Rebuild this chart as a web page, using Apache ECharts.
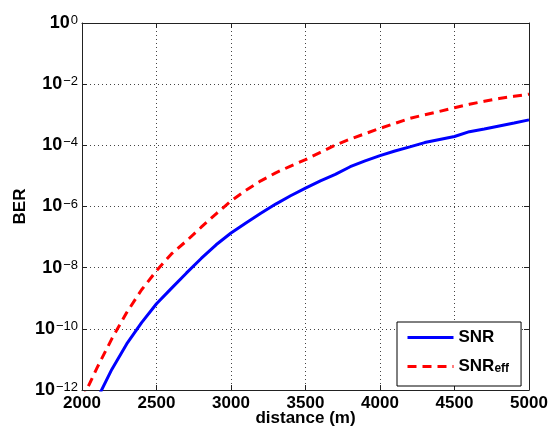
<!DOCTYPE html>
<html><head><meta charset="utf-8">
<script src="https://cdn.jsdelivr.net/npm/echarts@6/dist/echarts.min.js"></script>
<style>html,body{margin:0;padding:0;background:#fff}#c{width:550px;height:427px}</style>
</head><body><div id="c"></div>
<script>
// distance (m)
const distance = [2000,2100,2200,2300,2400,2500,2600,2700,2800,2900,3000,3100,3200,3300,3400,3500,3600,3700,3800,3900,4000,4100,4200,4300,4400,4500,4600,4700,4800,4900,5000];
// BER using SNR (blue, solid)
const berSNR = [null,4.9e-13,4.7e-12,3.2e-11,1.6e-10,6.6e-10,2.1e-9,6.6e-9,2.0e-8,5.6e-8,1.36e-7,2.9e-7,6.0e-7,1.2e-6,2.24e-6,4.0e-6,6.9e-6,1.12e-5,2.0e-5,3.1e-5,4.6e-5,6.5e-5,8.9e-5,1.23e-4,1.55e-4,1.95e-4,2.8e-4,3.4e-4,4.3e-4,5.4e-4,6.8e-4];
// BER using SNR_eff (red, dashed)
const berSNReff = [4.8e-13,5.2e-12,4.7e-11,3.4e-10,1.9e-9,7.9e-9,2.8e-8,7.4e-8,2.1e-7,5.75e-7,1.51e-6,3.4e-6,6.9e-6,1.26e-5,2.1e-5,3.4e-5,5.9e-5,1.02e-4,1.6e-4,2.4e-4,3.6e-4,5.2e-4,7.6e-4,1.0e-3,1.29e-3,1.7e-3,2.2e-3,2.75e-3,3.4e-3,4.0e-3,4.7e-3];
const xTicks = [2000,2500,3000,3500,4000,4500,5000];
const yTickExponents = [-12,-10,-8,-6,-4,-2,0];
const seriesNames = ['SNR','SNReff'];

function pairs(xs, ys){ const out=[]; for(let i=0;i<xs.length;i++){ if(ys[i]!=null) out.push([xs[i], ys[i]]);} return out; }

const FONT = 'Liberation Sans, Arial, Helvetica, sans-serif';
const axisColor = '#222';
const chart = echarts.init(document.getElementById('c'), null, {renderer:'canvas'});
const gridLine = {show:true, lineStyle:{color:'#444', width:1, type:[1,3]}};
const ylabelFmt = function(v){
  const e = Math.round(Math.log10(v));
  return '{b|10}{e|' + (e===0 ? '0' : '\u2212' + (-e)) + '}';
};
chart.setOption({
  animation:false,
  backgroundColor:'#fff',
  grid:{left:82, right:21, top:23, bottom:37, containLabel:false, outerBoundsMode:'none'},
  xAxis:[{
    type:'value', min:xTicks[0], max:xTicks[xTicks.length-1], interval:xTicks[1]-xTicks[0],
    axisLine:{show:true, onZero:false, lineStyle:{color:axisColor, width:1}},
    axisTick:{show:true, inside:true, length:5, lineStyle:{color:axisColor}},
    axisLabel:{color:'#000', fontFamily:FONT, fontWeight:'bold', fontSize:17, margin:5,
      formatter:function(v){ return String(v); }},
    splitLine:gridLine,
    name:'distance (m)', nameLocation:'middle', nameGap:20, nameMoveOverlap:false,
    nameTextStyle:{color:'#000', fontFamily:FONT, fontWeight:'bold', fontSize:17}
  },{
    type:'value', position:'top', min:xTicks[0], max:xTicks[xTicks.length-1], interval:xTicks[1]-xTicks[0],
    axisLine:{show:true, onZero:false, lineStyle:{color:axisColor, width:1}},
    axisTick:{show:true, inside:true, length:5, lineStyle:{color:axisColor}},
    axisLabel:{show:false}, splitLine:{show:false}
  }],
  yAxis:[{
    type:'log', logBase:10, min:Math.pow(10, yTickExponents[0]), max:Math.pow(10, yTickExponents[yTickExponents.length-1]),
    interval:2,
    axisLine:{show:true, onZero:false, lineStyle:{color:axisColor, width:1}},
    axisTick:{show:true, inside:true, length:5, lineStyle:{color:axisColor}},
    minorTick:{show:false},
    axisLabel:{formatter:ylabelFmt, margin:4, color:'#000',
      rich:{
        b:{fontFamily:FONT, fontWeight:'bold', fontSize:18, lineHeight:18, verticalAlign:'bottom', color:'#000'},
        e:{fontFamily:FONT, fontSize:13, lineHeight:13, padding:[0,0,10,1], verticalAlign:'top', color:'#000'}
      }},
    splitLine:gridLine,
    name:'BER', nameLocation:'middle', nameGap:53, nameMoveOverlap:false,
    nameTextStyle:{color:'#000', fontFamily:FONT, fontWeight:'bold', fontSize:17}
  },{
    type:'log', logBase:10, position:'right', min:Math.pow(10, yTickExponents[0]), max:Math.pow(10, yTickExponents[yTickExponents.length-1]),
    interval:2,
    axisLine:{show:true, onZero:false, lineStyle:{color:axisColor, width:1}},
    axisTick:{show:true, inside:true, length:5, lineStyle:{color:axisColor}},
    minorTick:{show:false},
    axisLabel:{show:false}, splitLine:{show:false}
  }],
  legend:{
    orient:'vertical', left:397, top:322,
    padding:[7,12,11,9], itemGap:9, itemWidth:46, itemHeight:14, itemTextGap:6,
    backgroundColor:'#fff', borderColor:'#000', borderWidth:1, borderRadius:0,
    data:seriesNames,
    itemStyle:{opacity:0},
    lineStyle:{width:3},
    formatter:function(n){ return n==='SNReff' ? '{n|SNR}{s|eff}' : '{n|SNR}'; },
    textStyle:{color:'#000', fontFamily:FONT, fontWeight:'bold', fontSize:17,
      rich:{
        n:{fontFamily:FONT, fontWeight:'bold', fontSize:17, lineHeight:17, verticalAlign:'top', color:'#000'},
        s:{fontFamily:FONT, fontWeight:'bold', fontSize:12, lineHeight:12, padding:[8,0,0,0], verticalAlign:'bottom', color:'#000'}
      }}
  },
  series:[{
    name:seriesNames[0], type:'line', xAxisIndex:0, yAxisIndex:0,
    data:pairs(distance, berSNR), symbol:'none', showSymbol:false, clip:true,
    lineStyle:{color:'#0000ff', width:3}, itemStyle:{color:'#0000ff'}
  },{
    name:seriesNames[1], type:'line', xAxisIndex:0, yAxisIndex:0,
    data:pairs(distance, berSNReff), symbol:'none', showSymbol:false, clip:true,
    lineStyle:{color:'#ff0000', width:3, type:[9,6]}, itemStyle:{color:'#ff0000'}
  }]
});
</script>
</body></html>
